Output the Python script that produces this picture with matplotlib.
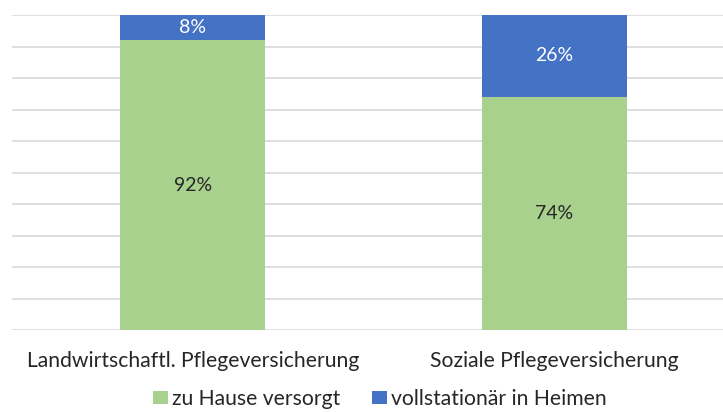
import matplotlib
matplotlib.use("Agg")
import matplotlib.pyplot as plt
import numpy as np

categories = ["Landwirtschaftl. Pflegeversicherung", "Soziale Pflegeversicherung"]
zu_hause = [92, 74]
heime = [8, 26]
series_names = ["zu Hause versorgt", "vollstationär in Heimen"]

plt.rcParams['font.family'] = ['Lato', 'DejaVu Sans']

W, H = 723, 412
fig = plt.figure(figsize=(W/100, H/100), dpi=100)
ax = fig.add_axes([12/W, (H-330)/H, (735-12)/W, 315/H])

x = np.arange(len(categories))
green = "#A9D18E"
blue = "#4472C4"
b1 = ax.bar(x, zu_hause, width=0.4, color=green, label=series_names[0], zorder=3)
b2 = ax.bar(x, heime, width=0.4, bottom=zu_hause, color=blue, label=series_names[1], zorder=3)

for i in range(len(x)):
    ax.text(x[i], zu_hause[i]/2, f"{zu_hause[i]}%", ha='center', va='center',
            fontsize=14, color="#262626", zorder=4)
    ax.text(x[i], zu_hause[i] + heime[i]/2, f"{heime[i]}%", ha='center', va='center',
            fontsize=14, color="white", zorder=4)

ax.set_xlim(-0.5, 1.5)
ax.set_ylim(0, 100)
ax.set_yticks(np.arange(0, 101, 10))
ax.yaxis.grid(True, color="#D9D9D9", linewidth=1.2, zorder=0)
ax.set_yticklabels([])
ax.tick_params(axis='y', length=0)
ax.set_xticks(x)
ax.set_xticklabels(categories, fontsize=15.2, color="#262626")
ax.tick_params(axis='x', length=0, pad=15)
for s in ax.spines.values():
    s.set_visible(False)

fig.legend(handles=[b1, b2], labels=series_names, loc='center', bbox_to_anchor=(380/W, 13/H),
           ncol=2, frameon=False, fontsize=15.2, handlelength=0.7, handleheight=0.62,
           handletextpad=0.2, columnspacing=1.5, labelcolor="#262626",
           borderpad=0, borderaxespad=0)

fig.savefig("out.png", dpi=100)
